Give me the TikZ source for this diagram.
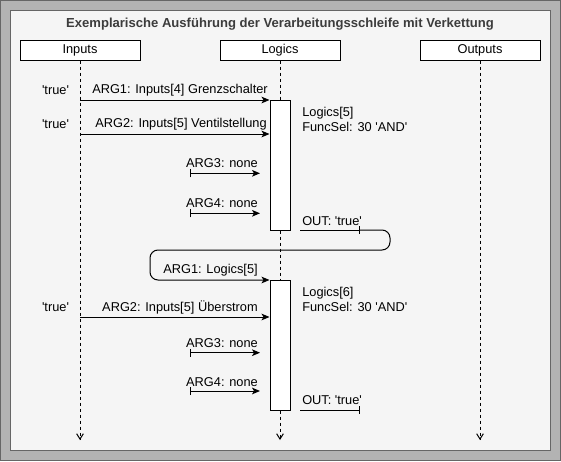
\documentclass[tikz,border=0pt]{standalone}
\usepackage{fontspec}
\setmainfont{Liberation Sans}[Ligatures=TeXOff]
\usetikzlibrary{arrows.meta}
\definecolor{outerfill}{HTML}{B3B3B3}
\definecolor{framedraw}{HTML}{666666}
\definecolor{innerfill}{HTML}{F5F5F5}
\definecolor{titlecol}{HTML}{3C3C3C}
\tikzset{
  hdr/.style={draw=black, fill=white, line width=0.75pt, minimum width=90pt, minimum height=15pt, inner sep=0pt},
  actbox/.style={draw=black, fill=white, line width=0.75pt, minimum width=15pt, inner sep=0pt},
  life/.style={line width=0.75pt, dash pattern=on 2.25pt off 2.25pt},
  lifeend/.style={life, -{Straight Barb[length=4pt,width=5pt]}},
  msg/.style={line width=0.75pt, -{Stealth[length=6pt,width=5pt,inset=1.5pt]}},
  barmsg/.style={line width=0.75pt, {Bar[width=6pt]}-{Stealth[length=6pt,width=5pt,inset=1.5pt]}},
  outmsg/.style={line width=0.75pt, -{Bar[width=6pt]}},
  lbl/.style={inner sep=0pt},
  note/.style={inner sep=0pt, anchor=west, align=left}
}
\begin{document}
\begin{tikzpicture}[x=0.75pt,y=-0.75pt,font=\fontsize{9.6}{11.25}\selectfont]
\useasboundingbox (0,0) rectangle (561,461);
% frames
\draw[fill=outerfill, draw=framedraw, line width=0.75pt] (0.5,0.5) rectangle (560.5,460.5);
\draw[fill=innerfill, draw=framedraw, line width=0.75pt] (10.5,10.5) rectangle (550.5,450.5);
\node[lbl, font=\fontsize{9.8}{11}\selectfont\bfseries, text=titlecol] (title) at (280,24) {Exemplarische Ausführung der Verarbeitungsschleife mit Verkettung};
% headers
\node[hdr] (inputs) at (80,50) {Inputs};
\node[hdr] (logics) at (280,50) {Logics};
\node[hdr] (outputs) at (480,50) {Outputs};
% end coordinates
\coordinate (inEnd) at (80,440);
\coordinate (logEnd) at (280,440);
\coordinate (outEnd) at (480,440);
% activation boxes (positions)
\node[actbox, minimum height=97.5pt] (act1) at (280,165) {};
\node[actbox, minimum height=97.5pt] (act2) at (280,345) {};
% lifelines
\draw[lifeend] (inputs.south) -- (inEnd);
\draw[lifeend] (outputs.south) -- (outEnd);
\draw[life] (logics.south) -- (act1.north);
\draw[life] (act1.south) -- (act2.north);
\draw[lifeend] (act2.south) -- (logEnd);
% redraw activation boxes on top
\node[actbox, minimum height=97.5pt] at (act1) {};
\node[actbox, minimum height=97.5pt] at (act2) {};
% first loop
\coordinate (m1) at (80,100);
\coordinate (m2) at (80,134);
\coordinate (m3) at (190,173.3);
\coordinate (m4) at (190,213.3);
\coordinate (m3e) at (260,173.3);
\coordinate (m4e) at (260,213.3);
\draw[msg] (m1) -- (m1 -| act1.west);
\draw[msg] (m2) -- (m2 -| act1.west);
\draw[barmsg] (m3) -- (m3e);
\draw[barmsg] (m4) -- (m4e);
\node[lbl] (t1) at (55.5,90) {'true'};
\node[lbl] (t2) at (55.5,124) {'true'};
\node[lbl] (l1) at (180,90) {ARG1: Inputs[4] Grenzschalter};
\node[lbl] (l2) at (181,124) {ARG2: Inputs[5] Ventilstellung};
\node[lbl] (l3) at (222,163) {ARG3: none};
\node[lbl] (l4) at (222,203) {ARG4: none};
\node[note] (n1) at (302,119.5) {Logics[5]\\FuncSel: 30 'AND'};
\node[lbl, anchor=west] (o1) at (302,221) {OUT: 'true'};
\coordinate (out1s) at (300,230);
\coordinate (out1e) at (360,230);
\draw[outmsg] (out1s) -- (out1e);
% chaining connector
\coordinate (k1) at (390,230);
\coordinate (k2) at (390,250);
\coordinate (k3) at (150,250);
\coordinate (k4) at (150,280);
\draw[msg, rounded corners=6pt] (out1e) -- (k1) -- (k2) -- (k3) -- (k4) -- (k4 -| act2.west);
% second loop
\coordinate (p2) at (80,317);
\coordinate (p3) at (190,352.7);
\coordinate (p4) at (190,391);
\coordinate (p3e) at (260,352.7);
\coordinate (p4e) at (260,391);
\draw[msg] (p2) -- (p2 -| act2.west);
\draw[barmsg] (p3) -- (p3e);
\draw[barmsg] (p4) -- (p4e);
\node[lbl] (k1l) at (210.5,270) {ARG1: Logics[5]};
\node[lbl] (t3) at (55.5,307) {'true'};
\node[lbl] (q2) at (180,307) {ARG2: Inputs[5] Überstrom};
\node[lbl] (q3) at (222,343) {ARG3: none};
\node[lbl] (q4) at (222,382) {ARG4: none};
\node[note] (n2) at (302,299.5) {Logics[6]\\FuncSel: 30 'AND'};
\node[lbl, anchor=west] (o2) at (302,400) {OUT: 'true'};
\coordinate (out2s) at (300,410);
\coordinate (out2e) at (360,410);
\draw[outmsg] (out2s) -- (out2e);
\end{tikzpicture}
\end{document}
